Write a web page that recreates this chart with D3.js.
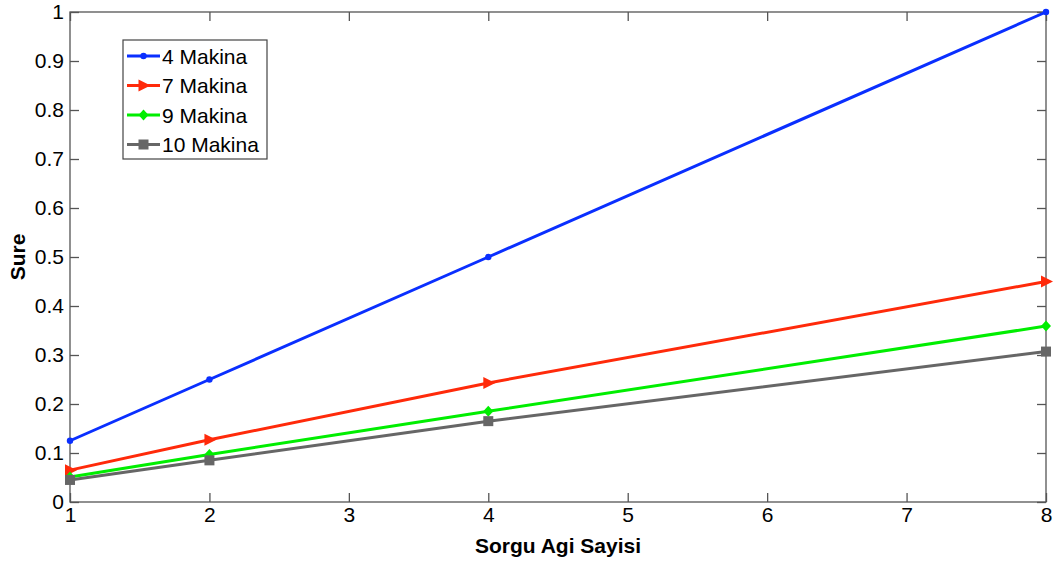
<!DOCTYPE html>
<html><head><meta charset="utf-8">
<script src="https://cdn.jsdelivr.net/npm/d3@7"></script>
<style>body{margin:0;background:#fff}svg{display:block}text{font-family:"Liberation Sans",Arial,sans-serif}</style>
</head><body>
<svg id="c" width="1059" height="565"></svg>
<script>
const xValues = [1, 2, 4, 8];
const seriesNames = ["4 Makina", "7 Makina", "9 Makina", "10 Makina"];
const makina4 = [0.125, 0.25, 0.5, 1.0];
const makina7 = [0.065, 0.127, 0.243, 0.45];
const makina9 = [0.051, 0.097, 0.185, 0.359];
const makina10 = [0.045, 0.085, 0.165, 0.307];
const xTicks = [1, 2, 3, 4, 5, 6, 7, 8];
const yTicks = [0, 0.1, 0.2, 0.3, 0.4, 0.5, 0.6, 0.7, 0.8, 0.9, 1];
const colors = ["#0a2fff", "#ff2a0a", "#00ee00", "#666666"];
const markers = ["dot", "tri", "diamond", "square"];
const allSeries = [makina4, makina7, makina9, makina10];

const svg = d3.select("#c");
const L = 70, R = 1046, T = 12, B = 502;
const x = d3.scaleLinear().domain([1, 8]).range([L, R]);
const y = d3.scaleLinear().domain([0, 1]).range([B, T]);
const axisCol = "#555";
const fs = 21;

// frame
svg.append("rect").attr("x", L).attr("y", T).attr("width", R - L).attr("height", B - T)
  .attr("fill", "none").attr("stroke", axisCol).attr("stroke-width", 1.3);

const tl = 9;
const gx = svg.append("g").attr("transform", `translate(0,${B})`)
  .call(d3.axisBottom(x).tickValues(xTicks).tickSize(-tl).tickPadding(5).tickFormat(d3.format("d")));
const gxt = svg.append("g").attr("transform", `translate(0,${T})`)
  .call(d3.axisTop(x).tickValues(xTicks).tickSize(-tl).tickFormat(""));
const gy = svg.append("g").attr("transform", `translate(${L},0)`)
  .call(d3.axisLeft(y).tickValues(yTicks).tickSize(-tl).tickPadding(6).tickFormat(d => d === 0 || d === 1 ? d3.format("d")(d) : d3.format(".1f")(d)));
const gyr = svg.append("g").attr("transform", `translate(${R},0)`)
  .call(d3.axisRight(y).tickValues(yTicks).tickSize(-tl).tickFormat(""));
[gx, gxt, gy, gyr].forEach(g => {
  g.select(".domain").remove();
  g.selectAll(".tick line").attr("stroke", axisCol).attr("stroke-width", 1.3);
  g.selectAll("text").attr("font-size", fs).attr("fill", "#000");
});
gx.selectAll("text").attr("dy", "0.71em");

// axis labels
svg.append("text").attr("x", (L + R) / 2).attr("y", 553).attr("text-anchor", "middle")
  .attr("font-size", fs).attr("font-weight", "bold").text("Sorgu Agi Sayisi");
svg.append("text").attr("transform", `translate(25,${(T + B) / 2}) rotate(-90)`).attr("text-anchor", "middle")
  .attr("font-size", fs).attr("font-weight", "bold").text("Sure");

function drawMarker(g, type, cx, cy, col) {
  if (type === "dot") {
    g.append("circle").attr("cx", cx).attr("cy", cy).attr("r", 3.2).attr("fill", col);
  } else if (type === "tri") {
    g.append("path").attr("d", `M${cx - 5},${cy - 6}L${cx + 7},${cy}L${cx - 5},${cy + 6}Z`).attr("fill", col);
  } else if (type === "diamond") {
    g.append("path").attr("d", `M${cx},${cy - 5.5}L${cx + 5},${cy}L${cx},${cy + 5.5}L${cx - 5},${cy}Z`).attr("fill", col);
  } else {
    g.append("rect").attr("x", cx - 5).attr("y", cy - 5).attr("width", 10).attr("height", 10).attr("fill", col);
  }
}

const line = d3.line().x((d, i) => x(xValues[i])).y(d => y(d));
allSeries.forEach((s, k) => {
  const g = svg.append("g");
  g.append("path").attr("d", line(s)).attr("fill", "none").attr("stroke", colors[k]).attr("stroke-width", 3);
  s.forEach((v, i) => drawMarker(g, markers[k], x(xValues[i]), y(v), colors[k]));
});

// legend
const lg = svg.append("g");
lg.append("rect").attr("x", 123).attr("y", 40).attr("width", 144).attr("height", 119)
  .attr("fill", "#fff").attr("stroke", "#444").attr("stroke-width", 1.2);
seriesNames.forEach((n, k) => {
  const yy = 56 + k * 29.5;
  lg.append("line").attr("x1", 127).attr("x2", 160).attr("y1", yy).attr("y2", yy)
    .attr("stroke", colors[k]).attr("stroke-width", 3);
  drawMarker(lg, markers[k], 143.5, yy, colors[k]);
  lg.append("text").attr("x", 162).attr("y", yy).attr("dy", "0.36em").attr("font-size", fs).text(n);
});
</script>
</body></html>
